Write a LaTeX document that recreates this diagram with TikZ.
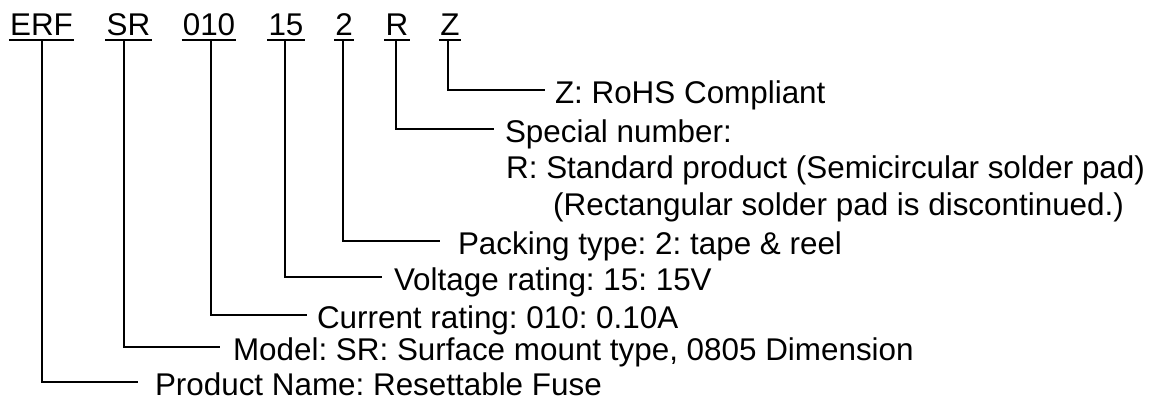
\documentclass[tikz,border=0pt]{standalone}
\usepackage{fontspec}
\setmainfont{Liberation Sans}
\usetikzlibrary{calc}
\frenchspacing
\begin{document}
\begin{tikzpicture}[x=1pt,y=-1pt,
  txt/.style={font=\fontsize{31.4pt}{36pt}\selectfont, inner sep=0pt, text height=27pt, text depth=0pt},
  code/.style={txt, inner xsep=1pt, text height=23pt, anchor=base},
  desc/.style={txt, anchor=west},
  conn/.style={line width=2pt},
  uline/.style={line width=2.4pt}]
\useasboundingbox (0,0) rectangle (1163,401);
% part-number codes
\node[code] (c-erf) at (41.5,36) {ERF};
\node[code] (c-sr)  at (128.5,36) {SR};
\node[code] (c-010) at (209,36) {010};
\node[code] (c-15)  at (286,36) {15};
\node[code] (c-2)   at (344,36) {2};
\node[code] (c-r)   at (397,36) {R};
\node[code] (c-z)   at (450,36) {Z};
\foreach \n in {c-erf,c-sr,c-010,c-15,c-2,c-r,c-z}
  \draw[uline] ([yshift=-4pt]\n.south west) -- ([yshift=-4pt]\n.south east);
% descriptions
\node[desc, outer xsep=10pt] (d-z)   at (545,90)  {Z: RoHS Compliant};
\node[desc, outer xsep=11pt] (d-r)   at (494,129) {Special number:};
\node[txt, anchor=base west] (d-r2) at (506,179) {R: Standard product (Semicircular solder pad)};
\node[txt, anchor=base west] (d-r3) at (553,215) {(Rectangular solder pad is discontinued.)};
\node[desc, outer xsep=18pt] (d-2)   at (440,241) {Packing type: 2: tape \& reel};
\node[desc, outer xsep=12pt] (d-15)  at (382,277) {Voltage rating: 15: 15V};
\node[desc, outer xsep=10pt] (d-010) at (307,315) {Current rating: 010: 0.10A};
\node[desc, outer xsep=13pt] (d-sr)  at (220,347) {Model: SR: Surface mount type, 0805 Dimension};
\node[desc, outer xsep=17pt] (d-erf) at (138,382) {Product Name: Resettable Fuse};
% connectors
\draw[conn] ([yshift=-4pt,xshift=-2pt]c-z.south)   |- (d-z.west);
\draw[conn] ([yshift=-4pt,xshift=-1pt]c-r.south)   |- (d-r.west);
\draw[conn] ([yshift=-4pt,xshift=-1pt]c-2.south)   |- (d-2.west);
\draw[conn] ([yshift=-4pt,xshift=-1pt]c-15.south)  |- (d-15.west);
\draw[conn] ([yshift=-4pt,xshift=2pt]c-010.south)  |- (d-010.west);
\draw[conn] ([yshift=-4pt,xshift=-4.5pt]c-sr.south) |- (d-sr.west);
\draw[conn] ([yshift=-4pt,xshift=0.5pt]c-erf.south) |- (d-erf.west);
\end{tikzpicture}
\end{document}
